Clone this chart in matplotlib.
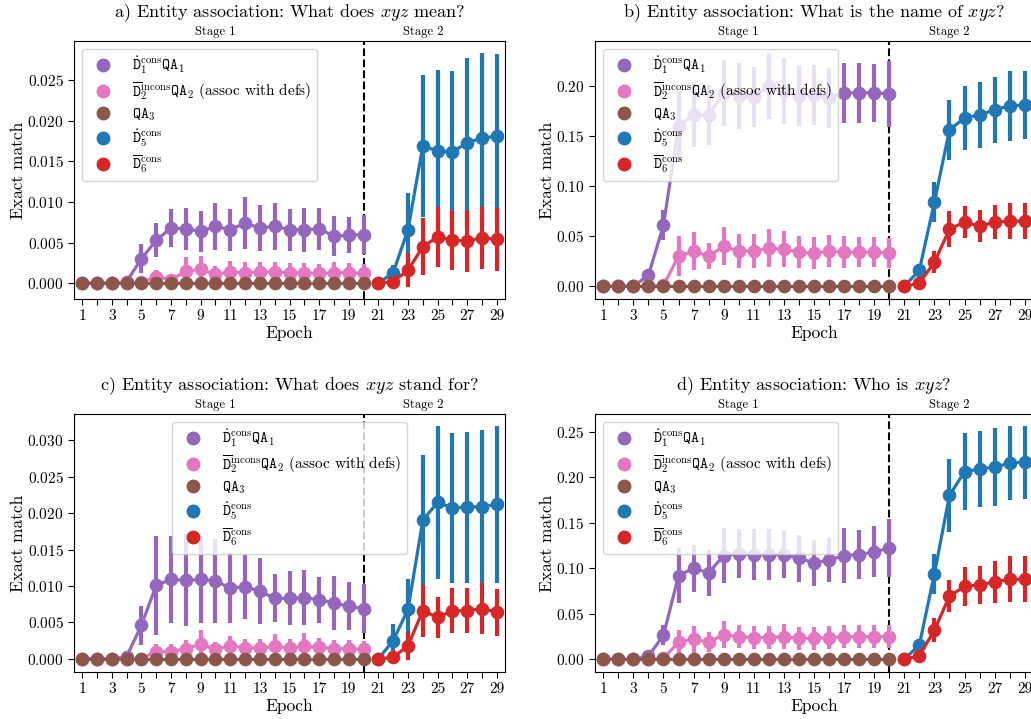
import matplotlib
matplotlib.use("Agg")
import matplotlib.pyplot as plt
from matplotlib.lines import Line2D
from matplotlib.transforms import blended_transform_factory

plt.rcParams["font.family"] = "serif"
plt.rcParams["font.serif"] = ["cmr10"]
plt.rcParams["mathtext.fontset"] = "cm"
plt.rcParams["axes.formatter.use_mathtext"] = True

EPOCHS = list(range(1, 30))
STAGE1 = EPOCHS[:20]
STAGE2 = EPOCHS[20:]

LABELS = [
    r"$\dot{\mathtt{D}}_1^{\mathrm{cons}}\mathtt{QA}_1$",
    r"$\overline{\mathtt{D}}_2^{\mathrm{incons}}\mathtt{QA}_2$ (assoc with defs)",
    r"$\mathtt{QA}_3$",
    r"$\dot{\mathtt{D}}_5^{\mathrm{cons}}$",
    r"$\overline{\mathtt{D}}_6^{\mathrm{cons}}$",
]
COLORS = ["#9467bd", "#e377c2", "#8c564b", "#1f77b4", "#d62728"]

TITLES = [
    r"a) Entity association: What does $xyz$ mean?",
    r"b) Entity association: What is the name of $xyz$?",
    r"c) Entity association: What does $xyz$ stand for?",
    r"d) Entity association: Who is $xyz$?",
]

QA3 = [0.0] * 20
QA3_ERR = [0.0] * 20

# a) what does xyz mean
A_D1 = [0, 0, 0, 0.0002, 0.0030, 0.0053, 0.0068, 0.0067, 0.0064, 0.0070, 0.0066, 0.0074, 0.0068, 0.0070, 0.0066, 0.0066, 0.0067, 0.0058, 0.0059, 0.0060]
A_D1_ERR = [0, 0, 0, 0.0003, 0.0018, 0.0021, 0.0023, 0.0026, 0.0025, 0.0029, 0.0026, 0.0032, 0.0028, 0.0029, 0.0026, 0.0027, 0.0026, 0.0025, 0.0022, 0.0024]
A_D2 = [0, 0, 0, 0, 0.0001, 0.0008, 0.0004, 0.0015, 0.0017, 0.0011, 0.0014, 0.0013, 0.0014, 0.0014, 0.0013, 0.0013, 0.0012, 0.0013, 0.0013, 0.0012]
A_D2_ERR = [0, 0, 0, 0, 0.0002, 0.0008, 0.0006, 0.0017, 0.0016, 0.0010, 0.0013, 0.0013, 0.0012, 0.0012, 0.0012, 0.0012, 0.0012, 0.0013, 0.0012, 0.0012]
A_D5 = [0, 0.0013, 0.0066, 0.0169, 0.0163, 0.0162, 0.0173, 0.0179, 0.0181]
A_D5_ERR = [0, 0.0010, 0.0045, 0.0088, 0.0100, 0.0099, 0.0105, 0.0105, 0.0102]
A_D6 = [0, 0.0002, 0.0016, 0.0045, 0.0057, 0.0053, 0.0052, 0.0056, 0.0054]
A_D6_ERR = [0, 0.0002, 0.0021, 0.0035, 0.0037, 0.0037, 0.0038, 0.0038, 0.0039]

# b) what is the name of xyz
B_D1 = [0, 0, 0, 0.011, 0.061, 0.160, 0.171, 0.171, 0.193, 0.190, 0.189, 0.200, 0.195, 0.190, 0.191, 0.188, 0.193, 0.193, 0.193, 0.192]
B_D1_ERR = [0, 0, 0, 0.004, 0.015, 0.035, 0.032, 0.030, 0.033, 0.033, 0.030, 0.033, 0.033, 0.030, 0.030, 0.030, 0.030, 0.030, 0.029, 0.033]
B_D2 = [0, 0, 0, 0, 0.001, 0.030, 0.035, 0.030, 0.040, 0.035, 0.035, 0.038, 0.037, 0.034, 0.033, 0.035, 0.034, 0.034, 0.034, 0.033]
B_D2_ERR = [0, 0, 0, 0, 0.002, 0.020, 0.019, 0.013, 0.019, 0.017, 0.017, 0.019, 0.018, 0.016, 0.016, 0.016, 0.016, 0.015, 0.015, 0.015]
B_D5 = [0, 0.016, 0.084, 0.156, 0.168, 0.171, 0.176, 0.180, 0.181]
B_D5_ERR = [0, 0.005, 0.020, 0.030, 0.032, 0.033, 0.033, 0.035, 0.034]
B_D6 = [0, 0.003, 0.024, 0.057, 0.064, 0.060, 0.064, 0.065, 0.065]
B_D6_ERR = [0, 0.002, 0.011, 0.018, 0.016, 0.016, 0.017, 0.018, 0.018]

# c) what does xyz stand for
C_D1 = [0, 0, 0, 0.0003, 0.0046, 0.0101, 0.0109, 0.0108, 0.0109, 0.0107, 0.0097, 0.0099, 0.0093, 0.0083, 0.0083, 0.0084, 0.0081, 0.0077, 0.0072, 0.0069]
C_D1_ERR = [0, 0, 0, 0.0003, 0.0027, 0.0068, 0.0060, 0.0063, 0.0060, 0.0058, 0.0048, 0.0045, 0.0045, 0.0033, 0.0037, 0.0038, 0.0032, 0.0037, 0.0033, 0.0034]
C_D2 = [0, 0, 0, 0, 0, 0.0010, 0.0010, 0.0014, 0.0020, 0.0013, 0.0018, 0.0015, 0.0015, 0.0017, 0.0015, 0.0017, 0.0016, 0.0014, 0.0014, 0.0013]
C_D2_ERR = [0, 0, 0, 0, 0, 0.0010, 0.0010, 0.0012, 0.0020, 0.0010, 0.0013, 0.0012, 0.0012, 0.0017, 0.0012, 0.0019, 0.0013, 0.0012, 0.0012, 0.0011]
C_D5 = [0, 0.0025, 0.0068, 0.0190, 0.0215, 0.0207, 0.0208, 0.0209, 0.0212]
C_D5_ERR = [0, 0.0023, 0.0042, 0.0090, 0.0105, 0.0103, 0.0104, 0.0105, 0.0108]
C_D6 = [0, 0.0002, 0.0018, 0.0066, 0.0057, 0.0066, 0.0066, 0.0069, 0.0064]
C_D6_ERR = [0, 0.0002, 0.0019, 0.0036, 0.0028, 0.0031, 0.0031, 0.0035, 0.0032]

# d) who is xyz
D_D1 = [0, 0, 0, 0.0036, 0.0265, 0.092, 0.100, 0.095, 0.114, 0.116, 0.115, 0.115, 0.115, 0.111, 0.106, 0.109, 0.114, 0.115, 0.118, 0.122]
D_D1_ERR = [0, 0, 0, 0.004, 0.011, 0.030, 0.026, 0.025, 0.030, 0.027, 0.028, 0.028, 0.026, 0.026, 0.025, 0.024, 0.030, 0.027, 0.028, 0.032]
D_D2 = [0, 0, 0, 0, 0.001, 0.019, 0.022, 0.019, 0.027, 0.025, 0.024, 0.024, 0.025, 0.023, 0.023, 0.024, 0.025, 0.025, 0.025, 0.025]
D_D2_ERR = [0, 0, 0, 0, 0.002, 0.013, 0.015, 0.011, 0.015, 0.013, 0.013, 0.013, 0.014, 0.013, 0.013, 0.013, 0.013, 0.013, 0.013, 0.013]
D_D5 = [0, 0.016, 0.094, 0.180, 0.206, 0.209, 0.211, 0.2155, 0.2165]
D_D5_ERR = [0, 0.006, 0.022, 0.040, 0.042, 0.042, 0.043, 0.041, 0.040]
D_D6 = [0, 0.004, 0.032, 0.0695, 0.080, 0.082, 0.085, 0.088, 0.088]
D_D6_ERR = [0, 0.003, 0.013, 0.018, 0.021, 0.021, 0.023, 0.025, 0.025]

PANELS = [
    [(A_D1, A_D1_ERR), (A_D2, A_D2_ERR), (QA3, QA3_ERR), (A_D5, A_D5_ERR), (A_D6, A_D6_ERR)],
    [(B_D1, B_D1_ERR), (B_D2, B_D2_ERR), (QA3, QA3_ERR), (B_D5, B_D5_ERR), (B_D6, B_D6_ERR)],
    [(C_D1, C_D1_ERR), (C_D2, C_D2_ERR), (QA3, QA3_ERR), (C_D5, C_D5_ERR), (C_D6, C_D6_ERR)],
    [(D_D1, D_D1_ERR), (D_D2, D_D2_ERR), (QA3, QA3_ERR), (D_D5, D_D5_ERR), (D_D6, D_D6_ERR)],
]
LEGEND_LOC = ["upper left", "upper left", "upper center", "upper left"]

W, H = 1031, 719
fig = plt.figure(figsize=(W / 100, H / 100), dpi=100)
boxes = [(74, 41), (595, 41), (74, 414), (595, 414)]
widths = [431, 438, 431, 438]
ax_h = 258

for i, (left, top) in enumerate(boxes):
    ax = fig.add_axes([left / W, (H - top - ax_h) / H, widths[i] / W, ax_h / H])
    pos = {e: k for k, e in enumerate(EPOCHS)}

    ax.axvline(pos[20], color="black", ls="--", lw=1.5, zorder=1.5)

    for j, (vals, errs) in enumerate(PANELS[i]):
        epochs = STAGE1 if j < 3 else STAGE2
        x = [pos[e] for e in epochs]
        ax.errorbar(x, vals, yerr=errs, fmt="-o", color=COLORS[j], lw=2.3,
                    elinewidth=3, ms=8.8, capsize=0, zorder=2 + j)

    ax.set_xlim(-0.55, len(EPOCHS) - 0.45)
    ax.set_xticks(range(len(EPOCHS)))
    ax.set_xticklabels([str(e) if e % 2 == 1 else "" for e in EPOCHS])
    ax.tick_params(labelsize=11, length=4)
    ax.set_xlabel("Epoch", fontsize=12.5, labelpad=2)
    ax.set_ylabel("Exact match", fontsize=12.5, labelpad=1)
    ax.set_title(TITLES[i], fontsize=13, pad=17)

    trans = blended_transform_factory(ax.transData, ax.transAxes)
    ax.text(pos[10], 1.012, "Stage 1", transform=trans, ha="center", va="bottom", fontsize=9)
    ax.text(pos[24], 1.012, "Stage 2", transform=trans, ha="center", va="bottom", fontsize=9)

    handles = [Line2D([], [], ls="", marker="o", ms=9, color=c) for c in COLORS]
    ax.legend(handles, LABELS, loc=LEGEND_LOC[i], fontsize=11, labelspacing=0.28,
              handletextpad=0.9)

fig.savefig("out.png", dpi=100)
